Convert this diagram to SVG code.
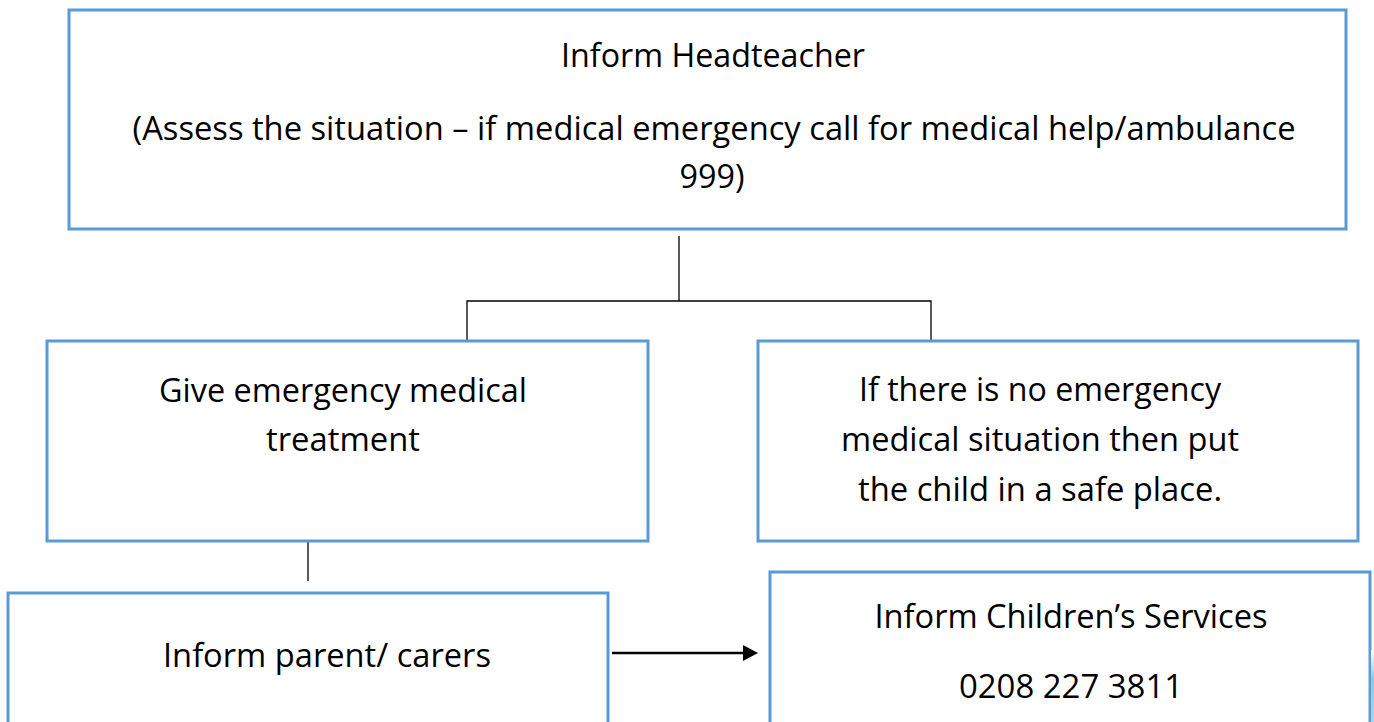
<svg xmlns="http://www.w3.org/2000/svg" width="1374" height="722" viewBox="0 0 1374 722">
  <style>
    .box { fill: #ffffff; stroke: #5b9bd5; stroke-width: 3; }
    .conn { fill: none; stroke: #000000; stroke-width: 1.3; }
    .arrow { fill: none; stroke: #000000; stroke-width: 2.4; }
    text { font-family: "Open Sans", "Liberation Sans", sans-serif; font-size: 32.5px; fill: #000000; text-anchor: middle; }
  </style>
  <defs>
    <linearGradient id="edge" x1="0" y1="0" x2="0" y2="1">
      <stop offset="0" stop-color="#ffffff"/>
      <stop offset="0.4" stop-color="#8ec6dc"/>
      <stop offset="1" stop-color="#a9d3e6"/>
    </linearGradient>
  </defs>

  <rect x="0" y="0" width="1374" height="722" fill="#ffffff"/>

  <g id="connectors">
    <path class="conn" d="M679,236 V301 M467,340 V301 H931 V340"/>
    <path class="conn" d="M308,541 V581"/>
    <line class="arrow" x1="612" y1="653" x2="744" y2="653"/>
    <polygon points="743,645 758,653 743,661" fill="#000000"/>
  </g>

  <g id="node-headteacher">
    <rect class="box" x="69" y="10" width="1277" height="219"/>
    <text x="713" y="67" textLength="304" lengthAdjust="spacingAndGlyphs">Inform Headteacher</text>
    <text x="714" y="140" textLength="1163" lengthAdjust="spacingAndGlyphs">(Assess the situation – if medical emergency call for medical help/ambulance</text>
    <text x="712" y="188" textLength="65" lengthAdjust="spacingAndGlyphs">999)</text>
  </g>

  <g id="node-emergency">
    <rect class="box" x="47" y="341" width="601" height="200"/>
    <text x="343" y="402" textLength="368" lengthAdjust="spacingAndGlyphs">Give emergency medical</text>
    <text x="343" y="451" textLength="154" lengthAdjust="spacingAndGlyphs">treatment</text>
  </g>

  <g id="node-safe-place">
    <rect class="box" x="758" y="341" width="600" height="200"/>
    <text x="1040" y="401" textLength="362" lengthAdjust="spacingAndGlyphs">If there is no emergency</text>
    <text x="1040" y="451" textLength="398" lengthAdjust="spacingAndGlyphs">medical situation then put</text>
    <text x="1040" y="501" textLength="364" lengthAdjust="spacingAndGlyphs">the child in a safe place.</text>
  </g>

  <g id="node-parents">
    <rect class="box" x="8" y="593" width="600" height="140"/>
    <text x="327" y="667" textLength="328" lengthAdjust="spacingAndGlyphs">Inform parent/ carers</text>
  </g>

  <g id="node-childrens-services">
    <rect class="box" x="770" y="572" width="600" height="160"/>
    <text x="1071" y="628" textLength="393" lengthAdjust="spacingAndGlyphs">Inform Children’s Services</text>
    <text x="1071" y="698" textLength="224" lengthAdjust="spacingAndGlyphs">0208 227 3811</text>
  </g>

  <rect x="1371" y="650" width="3" height="72" fill="url(#edge)"/>
</svg>
